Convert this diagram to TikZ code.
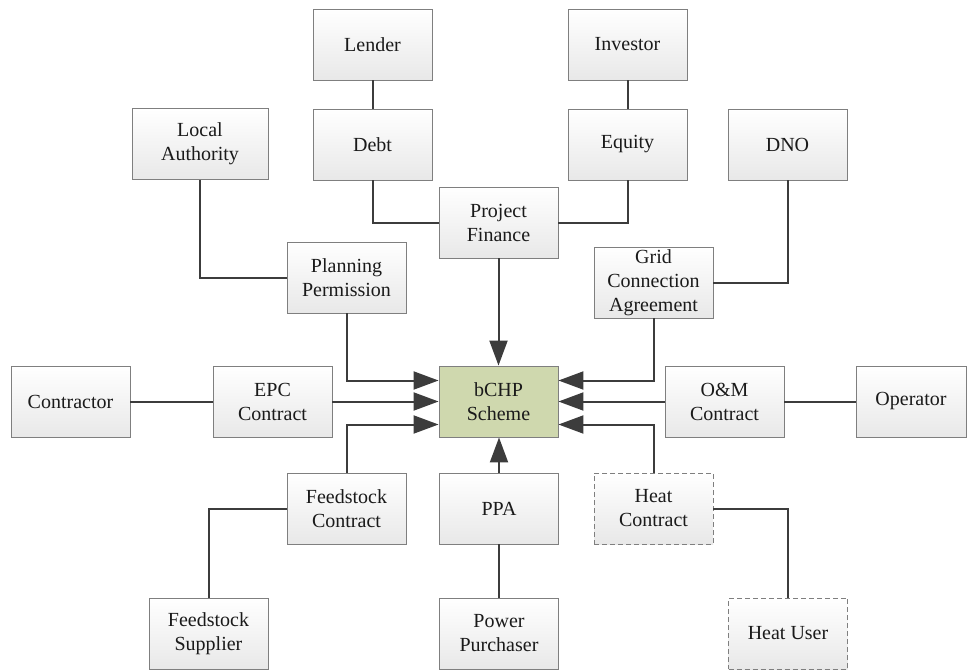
\documentclass[tikz,border=0pt]{standalone}
\usepackage{fontspec}
\setmainfont{Liberation Serif}
\newfontfamily\boxfont{Liberation Serif}
\usetikzlibrary{arrows.meta,calc}
\definecolor{boxline}{HTML}{7F7F7F}
\definecolor{conn}{HTML}{3C3C3C}
\definecolor{greenfill}{HTML}{CFD8AE}
\definecolor{txt}{HTML}{1A1A1A}
\tikzset{
  box/.style={draw=boxline, line width=0.9pt, top color=white, bottom color=black!9,
    minimum width=119pt, minimum height=71pt, inner sep=0pt, align=center,
    text=txt, font=\boxfont\fontsize{20}{24}\selectfont},
  dashbox/.style={box, dash pattern=on 5pt off 3pt},
  mainbox/.style={box, top color=greenfill, bottom color=greenfill, fill=greenfill},
  link/.style={draw=conn, line width=2pt},
  arr/.style={link, -{Triangle[length=25pt,width=18pt]}}
}
\begin{document}
\begin{tikzpicture}[x=1pt,y=-1pt]
\useasboundingbox (0,0) rectangle (968,669);
% top row
\node[box] (lender) at (372.5,44.5) {Lender};
\node[box] (investor) at (627.5,44.5) {Investor};
\node[box] (debt) at (372.5,144.5) {Debt};
\node[box] (equity) at (627.5,144.5) {Equity};
\node[box, minimum width=136pt] (la) at (200,144) {Local\\Authority};
\node[box] (dno) at (787.5,144.5) {DNO};
\node[box] (pf) at (498.5,222.5) {Project\\Finance};
\node[box] (planning) at (346.5,277.5) {Planning\\Permission};
\node[box] (gca) at (653.5,282.5) {Grid\\Connection\\Agreement};
% middle row
\node[box] (contractor) at (70.5,401.5) {Contractor};
\node[box] (epc) at (272.5,401.5) {EPC\\Contract};
\node[mainbox] (bchp) at (498.5,401.5) {bCHP\\Scheme};
\node[box] (om) at (724.5,401.5) {O\&M\\Contract};
\node[box, minimum width=110pt] (operator) at (911,401.5) {Operator};
% bottom rows
\node[box] (fc) at (346.5,508.5) {Feedstock\\Contract};
\node[box] (ppa) at (499,508.5) {PPA};
\node[dashbox] (hc) at (653.5,508.5) {Heat\\Contract};
\node[box] (fs) at (208.5,633.5) {Feedstock\\Supplier};
\node[box] (pp) at (499,633.5) {Power\\Purchaser};
\node[dashbox] (hu) at (788,633.5) {Heat User};
% connectors
\draw[link] (lender) -- (debt);
\draw[link] (investor) -- (equity);
\draw[link] (debt.south) |- (pf.west);
\draw[link] (equity.south) |- (pf.east);
\draw[link] (la.south) |- (planning.west);
\draw[link] (dno.south) |- (gca.east);
\draw[arr] (pf.south) -- (bchp.north);
\draw[arr] (planning.south) |- ([yshift=21pt]bchp.west);
\draw[link] (contractor) -- (epc);
\draw[arr] (epc.east) -- (bchp.west);
\draw[arr] (fc.north) |- ([yshift=-23pt]bchp.west);
\draw[link] (fs.north) |- (fc.west);
\draw[arr] (ppa.north) -- (ppa.north |- bchp.south);
\draw[link] (pp.north) -- (ppa.south);
\draw[arr] (gca.south) |- ([yshift=21pt]bchp.east);
\draw[arr] (om.west) -- (bchp.east);
\draw[link] (operator.west) -- (om.east);
\draw[arr] (hc.north) |- ([yshift=-23pt]bchp.east);
\draw[link] (hc.east) -| (hu.north);
\end{tikzpicture}
\end{document}
